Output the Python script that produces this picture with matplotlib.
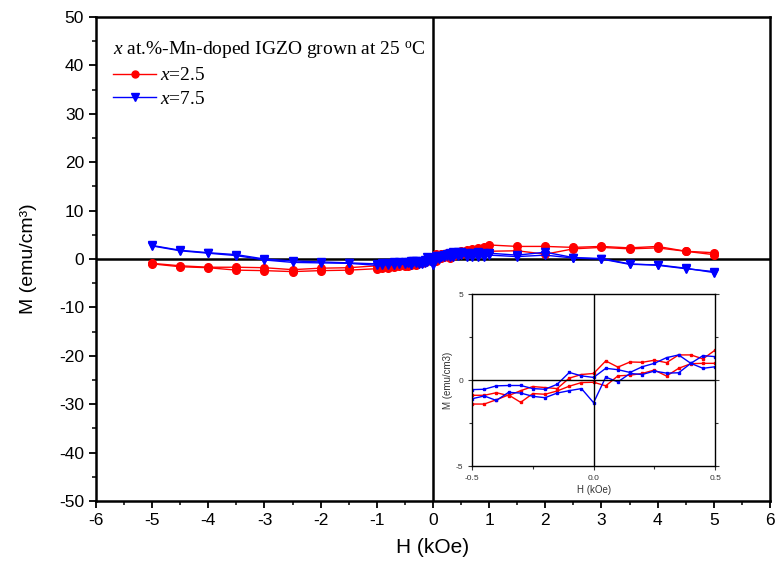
import matplotlib
matplotlib.use('Agg')
import matplotlib.pyplot as plt
from matplotlib.lines import Line2D
from matplotlib.ticker import MultipleLocator
import numpy as np

plt.rcParams['font.family'] = 'Liberation Sans'
plt.rcParams['axes.unicode_minus'] = False
plt.rcParams['mathtext.fontset'] = 'custom'
plt.rcParams['mathtext.rm'] = 'Liberation Serif'
plt.rcParams['mathtext.it'] = 'Liberation Serif:italic'

#--------------------------------------------------------------------
# field values (kOe)
H_left = [-5, -4.5, -4, -3.5, -3, -2.5, -2, -1.5, -1, -0.9, -0.8, -0.7, -0.6]
H_mid = [-0.5, -0.45, -0.4, -0.35, -0.3, -0.25, -0.2, -0.15, -0.1, -0.05, 0.0,
         0.05, 0.1, 0.15, 0.2, 0.25, 0.3, 0.35, 0.4, 0.45, 0.5]
H_right = [0.6, 0.7, 0.8, 0.9, 1, 1.5, 2, 2.5, 3, 3.5, 4, 4.5, 5]

# x=2.5, two branches
red_a_left = [-0.9, -1.4, -1.7, -1.7, -1.8, -2.2, -1.9, -1.8, -1.4, -1.3, -1.2, -1.1, -1.0]
red_a_mid = [-0.88, -0.88, -0.73, -0.9, -0.61, -0.37, -0.43, -0.49, 0.12, 0.33, 0.39,
             1.12, 0.76, 1.06, 1.04, 1.16, 1.02, 1.47, 1.47, 1.24, 1.75]
red_a_right = [1.8, 2.0, 2.2, 2.4, 2.9, 2.6, 2.6, 2.4, 2.6, 2.3, 2.6, 1.6, 1.3]
red_b_left = [-1.0, -1.6, -1.8, -2.3, -2.4, -2.6, -2.4, -2.3, -2.0, -1.9, -1.8, -1.6, -1.5]
red_b_mid = [-1.39, -1.39, -1.14, -0.86, -1.29, -0.78, -0.82, -0.63, -0.35, -0.14, -0.12,
             -0.33, 0.25, 0.29, 0.39, 0.59, 0.24, 0.69, 0.96, 0.98, 0.98]
red_b_right = [1.1, 1.3, 1.4, 1.5, 1.6, 1.7, 1.0, 2.1, 2.4, 2.1, 2.3, 1.6, 0.9]

# x=7.5, two branches
blue_a_left = [2.8, 1.8, 1.3, 0.9, 0.0, -0.4, -0.6, -0.8, -1.0, -0.9, -0.8, -0.7, -0.6]
blue_a_mid = [-0.55, -0.53, -0.33, -0.31, -0.31, -0.49, -0.53, -0.24, 0.45, 0.25, 0.16,
              0.69, 0.61, 0.45, 0.78, 0.98, 1.31, 1.47, 0.98, 1.43, 1.37]
blue_a_right = [1.3, 1.3, 1.4, 1.3, 1.2, 0.8, 1.4, 0.3, 0.1, -1.0, -1.3, -2.0, -2.6]
blue_b_left = [2.7, 1.7, 1.2, 0.7, -0.2, -0.7, -0.8, -0.9, -1.3, -1.3, -1.2, -1.2, -1.1]
blue_b_mid = [-1.08, -0.92, -1.18, -0.71, -0.75, -0.94, -1.02, -0.75, -0.61, -0.49, -1.31,
              0.18, -0.10, 0.39, 0.33, 0.53, 0.41, 0.43, 0.98, 0.69, 0.78]
blue_b_right = [0.4, 0.4, 0.4, 0.4, 0.8, 0.5, 0.8, 0.2, 0.0, -1.1, -1.2, -1.9, -2.8]

H_all = H_left + H_mid + H_right
red_branches = [red_a_left + red_a_mid + red_a_right, red_b_left + red_b_mid + red_b_right]
blue_branches = [blue_a_left + blue_a_mid + blue_a_right, blue_b_left + blue_b_mid + blue_b_right]

RED = '#ff0000'
BLUE = '#0000ff'

#--------------------------------------------------------------------
fig = plt.figure(figsize=(7.79, 5.67), dpi=100)
ax = fig.add_axes([0.1232, 0.1164, 0.8652, 0.8536])

for m in red_branches:
    ax.plot(H_all, m, color=RED, lw=1, marker='o', ms=5.5, mec=RED, mfc=RED, zorder=3)
for m in blue_branches:
    ax.plot(H_all, m, color=BLUE, lw=1, marker='v', ms=6, mec=BLUE, mfc=BLUE, zorder=4)

ax.axhline(0, color='k', lw=1.8, zorder=2)
ax.axvline(0, color='k', lw=1.8, zorder=2)

ax.set_xlim(-6, 6)
ax.set_ylim(-50, 50)
ax.xaxis.set_major_locator(MultipleLocator(1))
ax.xaxis.set_minor_locator(MultipleLocator(0.5))
ax.yaxis.set_major_locator(MultipleLocator(10))
ax.yaxis.set_minor_locator(MultipleLocator(5))
ax.tick_params(which='major', direction='out', length=5, width=1.3, labelsize=12.5)
ax.tick_params(which='minor', direction='out', length=3, width=1.1)
for s in ax.spines.values():
    s.set_linewidth(1.8)
ax.set_xlabel('H (kOe)', fontsize=15, labelpad=7)
ax.set_ylabel('M (emu/cm³)', fontsize=14, labelpad=16)

handles = [Line2D([], [], color=RED, lw=1, marker='o', ms=5),
           Line2D([], [], color=BLUE, lw=1, marker='v', ms=6)]
leg = ax.legend(handles, ['$x$=2.5', '$x$=7.5'],
                title='$x$ at.%-Mn-doped IGZO grown at 25 $^{\\mathrm{o}}$C',
                loc='upper left', bbox_to_anchor=(0.0, 0.99), frameon=False,
                alignment='left', numpoints=1,
                handlelength=2.2, handletextpad=0.2, labelspacing=0.3,
                prop={'family': 'Liberation Serif', 'size': 14})
leg.get_title().set_family('Liberation Serif')
leg.get_title().set_fontsize(14)

#--------------------------------------------------------------------
# inset: zoom around zero field
axi = fig.add_axes([0.606, 0.178, 0.312, 0.303])
for m in [red_a_mid, red_b_mid]:
    axi.plot(H_mid, m, color=RED, lw=1, marker='s', ms=2)
for m in [blue_a_mid, blue_b_mid]:
    axi.plot(H_mid, m, color=BLUE, lw=1, marker='s', ms=2)
axi.axhline(0, color='k', lw=1)
axi.axvline(0, color='k', lw=1)
axi.set_xlim(-0.5, 0.5)
axi.set_ylim(-5, 5)
axi.set_xticks([-0.5, 0.0, 0.5])
axi.set_xticklabels(['-0.5', '0.0', '0.5'])
axi.set_yticks([-5, 0, 5])
axi.xaxis.set_minor_locator(MultipleLocator(0.25))
axi.yaxis.set_minor_locator(MultipleLocator(2.5))
axi.tick_params(which='both', direction='out', labelsize=6, colors='#333333',
                length=3, width=0.8, right=True)
axi.tick_params(which='minor', length=2)
for s in axi.spines.values():
    s.set_linewidth(1)
axi.set_xlabel('H (kOe)', fontsize=7, color='#333333', labelpad=2)
axi.set_ylabel('M (emu/cm3)', fontsize=7, color='#333333', labelpad=2)

fig.savefig('out.png', dpi=100)
